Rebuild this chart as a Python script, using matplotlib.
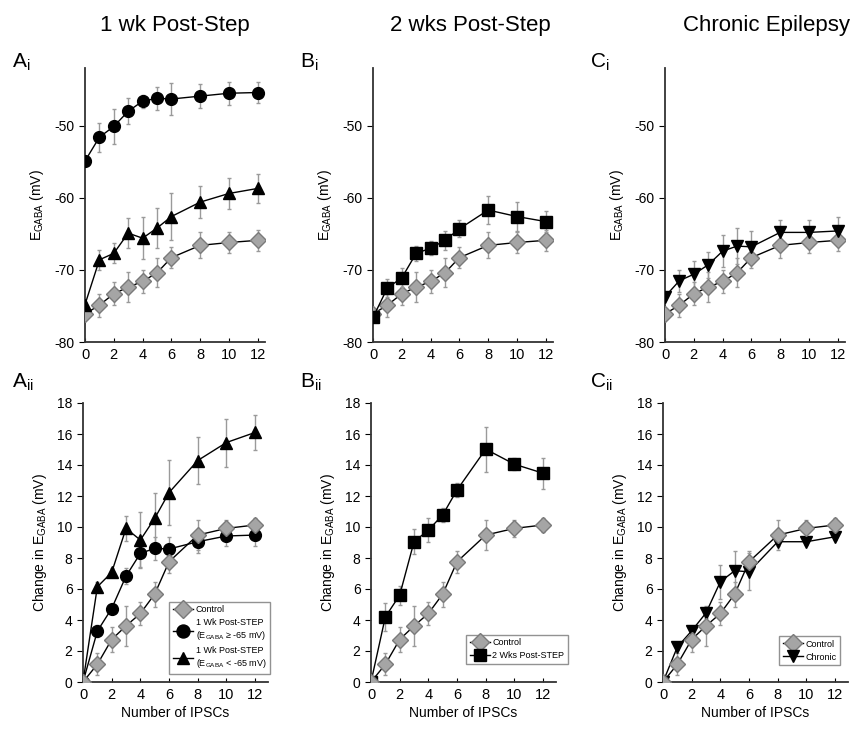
import numpy as np
import matplotlib.pyplot as plt

plt.rcParams['font.family'] = ['Liberation Sans', 'DejaVu Sans']
plt.rcParams['mathtext.fontset'] = 'custom'
plt.rcParams['mathtext.rm'] = 'Liberation Sans'
plt.rcParams['axes.unicode_minus'] = False

# number of IPSCs
x = [0, 1, 2, 3, 4, 5, 6, 8, 10, 12]

# E_GABA (mV), top row
ctrl_e = [-76.1, -74.9, -73.3, -72.4, -71.6, -70.4, -68.3, -66.6, -66.2, -65.9]
ctrl_e_err = [0.4, 1.6, 1.6, 2.1, 1.6, 2.0, 1.5, 1.8, 1.5, 1.5]
wk1_hi_e = [-54.9, -51.6, -50.1, -48.0, -46.6, -46.2, -46.3, -45.9, -45.5, -45.4]
wk1_hi_e_err = [0.3, 2.0, 2.4, 1.8, 0.9, 1.6, 2.2, 1.7, 1.6, 1.5]
wk1_lo_e = [-74.8, -68.6, -67.7, -64.9, -65.6, -64.2, -62.6, -60.6, -59.4, -58.7]
wk1_lo_e_err = [0.3, 1.4, 1.4, 2.1, 2.9, 2.8, 3.2, 2.2, 2.2, 2.0]
wk2_e = [-76.6, -72.5, -71.1, -67.7, -67.0, -65.9, -64.3, -61.7, -62.6, -63.3]
wk2_e_err = [0.3, 1.3, 1.3, 1.0, 1.0, 1.3, 1.2, 2.0, 2.0, 1.5]
chron_e = [-73.7, -71.5, -70.6, -69.3, -67.4, -66.7, -66.8, -64.8, -64.8, -64.6]
chron_e_err = [0.3, 1.5, 1.9, 1.8, 2.2, 2.5, 2.2, 1.75, 1.75, 1.9]

# change in E_GABA (mV), bottom row
ctrl_d = [0, 1.14, 2.74, 3.62, 4.42, 5.67, 7.76, 9.48, 9.91, 10.13]
ctrl_d_err = [0, 0.7, 0.8, 1.3, 0.75, 0.8, 0.7, 0.95, 0.55, 0.45]
wk1_hi_d = [0, 3.28, 4.74, 6.83, 8.3, 8.62, 8.58, 9.05, 9.42, 9.48]
wk1_hi_d_err = [0, 0.4, 0.3, 0.5, 0.9, 0.75, 0.75, 0.75, 0.65, 0.7]
wk1_lo_d = [0, 6.14, 7.07, 9.91, 9.16, 10.56, 12.22, 14.29, 15.45, 16.1]
wk1_lo_d_err = [0, 0.3, 0.3, 0.8, 1.8, 1.65, 2.1, 1.5, 1.55, 1.1]
wk2_d = [0, 4.2, 5.6, 9.05, 9.8, 10.78, 12.39, 15.02, 14.05, 13.47]
wk2_d_err = [0, 0.9, 0.6, 0.8, 0.75, 0.45, 0.45, 1.45, 0.4, 1.0]
chron_d = [0, 2.26, 3.3, 4.46, 6.47, 7.18, 7.11, 9.05, 9.05, 9.37]
chron_d_err = [0, 0.2, 0.3, 0.3, 1.1, 1.3, 1.2, 0.3, 0.2, 0.2]

titles = ['1 wk Post-Step', '2 wks Post-Step', 'Chronic Epilepsy']
top_labels = ['A', 'B', 'C']

fig = plt.figure(figsize=(8.63, 7.29), dpi=100)

lefts = [85, 373, 665]
W, H = 863, 729


def add_ax(left_px, top_px, bot_px, w_px=180):
    return fig.add_axes([left_px / W, 1 - bot_px / H, w_px / W, (bot_px - top_px) / H])


styles = {
    'ctrl': dict(marker='D', ms=8, mfc='#a5a5a5', mec='#7a7a7a', mew=1.0),
    'hi': dict(marker='o', ms=8.5, mfc='black', mec='black'),
    'lo': dict(marker='^', ms=8.5, mfc='black', mec='black'),
    'wk2': dict(marker='s', ms=8, mfc='black', mec='black'),
    'chron': dict(marker='v', ms=8.5, mfc='black', mec='black'),
}


def series(ax, y, err, key, label=None, z=3):
    ax.errorbar(x, y, yerr=err, fmt='none', ecolor='#9a9a9a', elinewidth=1.0,
                capsize=1.5, capthick=1.0, zorder=z - 1)
    ax.plot(x, y, color='black', lw=1.0, label=label, zorder=z, **styles[key])


def style(ax, top):
    for s in ['top', 'right']:
        ax.spines[s].set_visible(False)
    for s in ['left', 'bottom']:
        ax.spines[s].set_color('#333333')
        ax.spines[s].set_linewidth(1.3)
    ax.set_xlim(0, 12.9 if not top else 12.5)
    ax.set_xticks([0, 2, 4, 6, 8, 10, 12])
    ax.tick_params(axis='x', direction='in', length=3, labelsize=10.5, pad=4)
    ax.tick_params(axis='y', direction='out', length=4, labelsize=10)
    if top:
        ax.set_ylim(-80, -42)
        ax.set_yticks([-80, -70, -60, -50])
        ax.set_ylabel(r'$\mathregular{E_{GABA}}$ (mV)', fontsize=10, labelpad=6)
    else:
        ax.set_ylim(0, 18)
        ax.set_yticks(range(0, 19, 2))
        ax.set_ylabel(r'Change in $\mathregular{E_{GABA}}$ (mV)', fontsize=10, labelpad=6)
        ax.set_xlabel('Number of IPSCs', fontsize=10, labelpad=3)


top_axes = [add_ax(l, 68, 342) for l in lefts]
bot_axes = [add_ax(l - 2, 403, 682, 185) for l in lefts]

# top row
series(top_axes[0], ctrl_e, ctrl_e_err, 'ctrl')
series(top_axes[0], wk1_hi_e, wk1_hi_e_err, 'hi')
series(top_axes[0], wk1_lo_e, wk1_lo_e_err, 'lo')
series(top_axes[1], ctrl_e, ctrl_e_err, 'ctrl')
series(top_axes[1], wk2_e, wk2_e_err, 'wk2', z=4)
series(top_axes[2], ctrl_e, ctrl_e_err, 'ctrl')
series(top_axes[2], chron_e, chron_e_err, 'chron')

# bottom row
series(bot_axes[0], ctrl_d, ctrl_d_err, 'ctrl', 'Control', z=4)
series(bot_axes[0], wk1_hi_d, wk1_hi_d_err, 'hi',
       '1 Wk Post-STEP\n' + r'($\mathregular{E_{GABA}}$ ≥ -65 mV)')
series(bot_axes[0], wk1_lo_d, wk1_lo_d_err, 'lo',
       '1 Wk Post-STEP\n' + r'($\mathregular{E_{GABA}}$ < -65 mV)')
series(bot_axes[1], ctrl_d, ctrl_d_err, 'ctrl', 'Control', z=4)
series(bot_axes[1], wk2_d, wk2_d_err, 'wk2', '2 Wks Post-STEP')
series(bot_axes[2], ctrl_d, ctrl_d_err, 'ctrl', 'Control', z=4)
series(bot_axes[2], chron_d, chron_d_err, 'chron', 'Chronic')

for ax in top_axes:
    style(ax, True)
for ax in bot_axes:
    style(ax, False)

leg_kw = dict(fontsize=6.5, frameon=True, fancybox=False, edgecolor='#777777',
              handlelength=2.2, borderpad=0.4, labelspacing=0.45, markerscale=1.1,
              handletextpad=0.3, borderaxespad=0)
bot_axes[0].legend(loc='lower right', bbox_to_anchor=(1.01, 0.03), **leg_kw)
bot_axes[1].legend(loc='lower right', bbox_to_anchor=(1.065, 0.065), **leg_kw)
bot_axes[2].legend(loc='lower right', bbox_to_anchor=(0.957, 0.06), **leg_kw)

# column titles and panel labels
title_x = [175, 470, 766]
for tx, t in zip(title_x, titles):
    fig.text(tx / W, 1 - 25 / H, t, fontsize=16, ha='center', va='center')
label_x = [12, 300, 590]
for lx, l in zip(label_x, top_labels):
    fig.text(lx / W, 1 - 62 / H, r'$\mathregular{%s_i}$' % l, fontsize=15, ha='left', va='center')
    fig.text(lx / W, 1 - 382 / H, r'$\mathregular{%s_{ii}}$' % l, fontsize=15, ha='left', va='center')

fig.savefig('out.png', dpi=100)
